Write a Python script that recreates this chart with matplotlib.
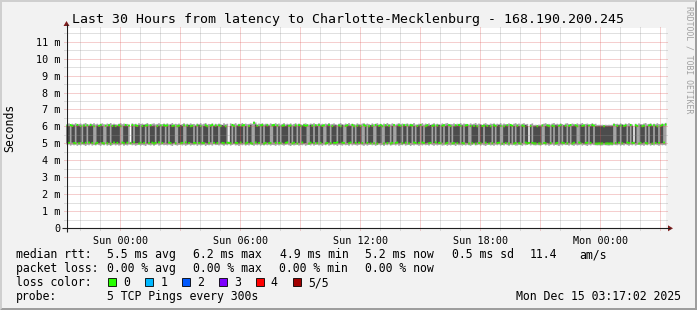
import numpy as np
import matplotlib
matplotlib.use('Agg')
import matplotlib.pyplot as plt
from matplotlib.patches import Polygon, Rectangle

plt.rcParams['font.family'] = ['DejaVu Sans Mono']
plt.rcParams['lines.scale_dashes'] = False

# ---------------- data: 5 pings every 300 s, 30 hours (360 steps) ----------------
# how many of the 5 pings landed in the ~6 ms cluster
n_slow = [
    3, 2, 4, 3, 2, 1, 3, 2, 3, 1, 3, 2, 4, 2, 3, 2, 4, 1, 2, 3, 3, 2, 1, 4, 2, 3, 1, 3, 2, 3,
    2, 3, 4, 1, 2, 3, 2, 4, 0, 3, 1, 3, 3, 2, 1, 3, 2, 4, 3, 1, 3, 2, 2, 1, 3, 2, 4, 2, 3, 4,
    3, 1, 2, 3, 3, 1, 4, 3, 2, 2, 4, 1, 3, 2, 3, 3, 1, 2, 4, 2, 3, 1, 2, 3, 3, 1, 3, 4, 2, 3,
    2, 4, 3, 2, 2, 3, 1, 0, 2, 4, 3, 1, 2, 3, 2, 3, 4, 2, 1, 3, 2, 1, 4, 2, 3, 2, 4, 3, 1, 2,
    3, 2, 1, 4, 3, 2, 4, 2, 1, 3, 3, 2, 2, 4, 3, 1, 2, 3, 1, 3, 4, 2, 3, 3, 4, 1, 2, 3, 1, 3,
    2, 4, 2, 3, 4, 1, 2, 3, 1, 3, 2, 2, 1, 3, 3, 2, 1, 4, 3, 2, 2, 4, 3, 1, 3, 2, 3, 1, 4, 3,
    1, 3, 2, 3, 1, 4, 2, 3, 3, 4, 1, 3, 2, 3, 1, 2, 4, 1, 2, 3, 3, 1, 3, 2, 4, 2, 3, 4, 2, 1,
    3, 2, 4, 2, 1, 3, 3, 2, 2, 4, 3, 1, 3, 2, 1, 3, 4, 2, 2, 4, 3, 1, 2, 3, 2, 3, 4, 2, 1, 3,
    3, 1, 4, 2, 3, 2, 3, 1, 2, 3, 4, 2, 3, 2, 3, 1, 3, 4, 2, 2, 4, 1, 3, 2, 3, 1, 3, 4, 2, 1,
    3, 2, 1, 3, 4, 2, 2, 0, 3, 1, 2, 2, 3, 2, 2, 4, 1, 2, 3, 3, 1, 3, 4, 2, 2, 4, 3, 1, 2, 3,
    1, 3, 4, 2, 2, 3, 4, 1, 2, 3, 3, 1, 2, 4, 2, 3, 4, 2, 2, 2, 2, 2, 3, 2, 2, 2, 2, 2, 4, 1,
    3, 2, 4, 2, 3, 3, 1, 2, 4, 2, 0, 3, 4, 1, 2, 3, 3, 1, 2, 4, 3, 2, 4, 2, 3, 1, 3, 3, 1, 4,
]
# typical rtt of the fast cluster (ms)
fast_ms = [
    5.04, 5.06, 5.02, 5.08, 5.05, 5.03, 5.07, 5.04, 5.09, 5.05, 5.02, 5.06, 5.04, 5.08, 5.03, 5.05, 5.07, 5.02, 5.06, 5.04, 5.09, 5.05, 5.03, 5.07, 5.04, 5.06, 5.02, 5.05, 5.08, 5.04,
    5.06, 5.03, 5.05, 5.08, 5.04, 5.02, 5.07, 5.05, 5.03, 5.06, 5.09, 5.04, 5.05, 5.02, 5.07, 5.04, 5.06, 5.08, 5.03, 5.05, 5.04, 5.07, 5.02, 5.06, 5.05, 5.09, 5.03, 5.05, 5.07, 5.04,
    5.03, 5.07, 5.05, 5.02, 5.06, 5.04, 5.08, 5.05, 5.03, 5.06, 5.04, 5.09, 5.02, 5.05, 5.07, 5.03, 5.06, 5.04, 5.08, 5.05, 5.02, 5.06, 5.04, 5.07, 5.03, 5.05, 5.09, 5.04, 5.06, 5.02,
    5.05, 5.08, 5.03, 5.06, 5.04, 5.02, 5.07, 5.05, 5.04, 5.09, 5.03, 5.06, 5.05, 5.02, 5.08, 5.04, 5.06, 5.03, 5.07, 5.05, 5.04, 5.02, 5.06, 5.08, 5.03, 5.05, 5.07, 5.04, 5.02, 5.06,
    5.07, 5.04, 5.05, 5.02, 5.08, 5.06, 5.03, 5.05, 5.04, 5.07, 5.02, 5.06, 5.09, 5.04, 5.05, 5.03, 5.07, 5.05, 5.02, 5.06, 5.04, 5.08, 5.03, 5.05, 5.06, 5.02, 5.07, 5.04, 5.05, 5.09,
    5.04, 5.02, 5.06, 5.05, 5.08, 5.03, 5.05, 5.07, 5.04, 5.02, 5.06, 5.05, 5.09, 5.03, 5.04, 5.07, 5.05, 5.02, 5.06, 5.04, 5.08, 5.05, 5.03, 5.06, 5.04, 5.07, 5.02, 5.05, 5.06, 5.03,
    5.06, 5.05, 5.03, 5.07, 5.04, 5.08, 5.02, 5.05, 5.06, 5.04, 5.03, 5.07, 5.05, 5.09, 5.02, 5.06, 5.04, 5.05, 5.08, 5.03, 5.06, 5.04, 5.02, 5.07, 5.05, 5.03, 5.06, 5.04, 5.08, 5.05,
    5.02, 5.06, 5.04, 5.08, 5.05, 5.03, 5.07, 5.04, 5.06, 5.02, 5.05, 5.09, 5.03, 5.06, 5.04, 5.07, 5.05, 5.02, 5.06, 5.04, 5.08, 5.03, 5.05, 5.07, 5.04, 5.02, 5.06, 5.05, 5.03, 5.07,
    5.05, 5.03, 5.07, 5.04, 5.06, 5.02, 5.08, 5.05, 5.04, 5.06, 5.03, 5.07, 5.05, 5.02, 5.09, 5.04, 5.06, 5.03, 5.05, 5.07, 5.04, 5.02, 5.06, 5.05, 5.08, 5.03, 5.04, 5.06, 5.02, 5.05,
    5.07, 5.04, 5.02, 5.06, 5.05, 5.08, 5.03, 5.05, 5.04, 5.06, 5.03, 5.03, 5.04, 5.03, 5.02, 5.07, 5.05, 5.04, 5.06, 5.02, 5.05, 5.08, 5.04, 5.03, 5.06, 5.05, 5.02, 5.07, 5.04, 5.06,
    5.04, 5.06, 5.05, 5.02, 5.07, 5.03, 5.05, 5.08, 5.04, 5.06, 5.02, 5.05, 5.07, 5.03, 5.06, 5.04, 5.05, 5.02, 5.02, 5.03, 5.02, 5.03, 5.04, 5.02, 5.03, 5.02, 5.03, 5.02, 5.06, 5.05,
    5.03, 5.07, 5.05, 5.04, 5.06, 5.02, 5.08, 5.05, 5.03, 5.06, 5.04, 5.05, 5.07, 5.02, 5.06, 5.04, 5.08, 5.05, 5.03, 5.06, 5.04, 5.02, 5.07, 5.05, 5.04, 5.06, 5.03, 5.05, 5.08, 5.06,
]
# typical rtt of the slow cluster (ms)
slow_ms = [
    6.08, 6.05, 6.11, 6.06, 6.09, 6.04, 6.12, 6.07, 6.05, 6.10, 6.08, 6.03, 6.09, 6.06, 6.11, 6.07, 6.04, 6.10, 6.08, 6.06, 6.12, 6.05, 6.09, 6.07, 6.03, 6.10, 6.08, 6.06, 6.11, 6.05,
    6.07, 6.10, 6.04, 6.09, 6.06, 6.12, 6.05, 6.08, 6.07, 6.11, 6.04, 6.09, 6.06, 6.10, 6.08, 6.05, 6.12, 6.07, 6.09, 6.04, 6.10, 6.06, 6.08, 6.11, 6.05, 6.07, 6.09, 6.04, 6.10, 6.06,
    6.09, 6.06, 6.12, 6.05, 6.08, 6.10, 6.04, 6.07, 6.11, 6.06, 6.09, 6.05, 6.08, 6.12, 6.04, 6.07, 6.10, 6.06, 6.09, 6.11, 6.05, 6.08, 6.06, 6.10, 6.04, 6.09, 6.07, 6.12, 6.05, 6.08,
    6.06, 6.09, 6.05, 6.11, 6.07, 6.04, 6.10, 6.08, 6.06, 6.12, 6.05, 6.09, 6.07, 6.10, 6.04, 6.08, 6.11, 6.06, 6.09, 6.05, 6.12, 6.10, 6.24, 6.14, 6.07, 6.05, 6.09, 6.11, 6.06, 6.08,
    6.10, 6.07, 6.05, 6.09, 6.12, 6.06, 6.08, 6.04, 6.11, 6.07, 6.09, 6.05, 6.10, 6.06, 6.08, 6.12, 6.04, 6.09, 6.07, 6.11, 6.05, 6.08, 6.10, 6.06, 6.09, 6.04, 6.12, 6.07, 6.05, 6.10,
    6.05, 6.11, 6.08, 6.06, 6.10, 6.04, 6.09, 6.12, 6.07, 6.05, 6.08, 6.10, 6.06, 6.09, 6.04, 6.11, 6.07, 6.05, 6.10, 6.08, 6.06, 6.12, 6.04, 6.09, 6.07, 6.10, 6.05, 6.08, 6.11, 6.06,
    6.08, 6.04, 6.10, 6.07, 6.05, 6.11, 6.09, 6.06, 6.12, 6.04, 6.08, 6.10, 6.05, 6.07, 6.09, 6.06, 6.11, 6.04, 6.08, 6.10, 6.07, 6.05, 6.12, 6.06, 6.09, 6.04, 6.10, 6.08, 6.06, 6.11,
    6.06, 6.09, 6.12, 6.05, 6.08, 6.04, 6.10, 6.07, 6.11, 6.06, 6.09, 6.05, 6.08, 6.12, 6.04, 6.07, 6.10, 6.06, 6.09, 6.11, 6.05, 6.08, 6.04, 6.10, 6.07, 6.12, 6.06, 6.09, 6.05, 6.08,
    6.11, 6.07, 6.05, 6.09, 6.06, 6.10, 6.04, 6.08, 6.12, 6.05, 6.07, 6.09, 6.06, 6.11, 6.04, 6.08, 6.10, 6.05, 6.07, 6.12, 6.06, 6.09, 6.04, 6.08, 6.10, 6.05, 6.11, 6.07, 6.06, 6.09,
    6.07, 6.05, 6.10, 6.08, 6.04, 6.12, 6.06, 6.09, 6.05, 6.11, 6.04, 6.05, 6.04, 6.05, 6.04, 6.08, 6.10, 6.06, 6.09, 6.05, 6.12, 6.07, 6.04, 6.10, 6.08, 6.06, 6.11, 6.05, 6.09, 6.07,
    6.09, 6.06, 6.11, 6.05, 6.08, 6.10, 6.04, 6.07, 6.12, 6.06, 6.09, 6.05, 6.10, 6.08, 6.04, 6.11, 6.07, 6.05, 6.04, 6.05, 6.04, 6.05, 6.04, 6.05, 6.04, 6.05, 6.04, 6.05, 6.12, 6.08,
    6.06, 6.10, 6.08, 6.12, 6.05, 6.09, 6.07, 6.04, 6.11, 6.06, 6.08, 6.10, 6.05, 6.09, 6.12, 6.04, 6.07, 6.10, 6.06, 6.08, 6.11, 6.05, 6.09, 6.07, 6.04, 6.10, 6.06, 6.12, 6.08, 6.14,
]
# lowest ping of the step (ms)
ping_min = [
    4.93, 4.96, 4.90, 4.95, 4.92, 4.97, 4.89, 4.94, 4.91, 4.96, 4.93, 4.88, 4.95, 4.92, 4.97, 4.90, 4.94, 4.91, 4.96, 4.93, 4.89, 4.95, 4.92, 4.97, 4.90, 4.94, 4.88, 4.93, 4.96, 4.91,
    4.95, 4.90, 4.93, 4.97, 4.89, 4.94, 4.91, 4.96, 4.98, 4.92, 4.95, 4.89, 4.93, 4.97, 4.90, 4.94, 4.92, 4.88, 4.96, 4.93, 4.91, 4.95, 4.89, 4.94, 4.97, 4.90, 4.93, 4.96, 4.92, 4.94,
    4.91, 4.95, 4.92, 4.88, 4.96, 4.93, 4.90, 4.94, 4.97, 4.91, 4.95, 4.89, 4.93, 4.96, 4.90, 4.94, 4.92, 4.97, 4.89, 4.95, 4.91, 4.93, 4.96, 4.88, 4.94, 4.92, 4.95, 4.90, 4.97, 4.93,
    4.94, 4.91, 4.96, 4.93, 4.89, 4.95, 4.92, 4.98, 4.90, 4.94, 4.97, 4.91, 4.93, 4.88, 4.95, 4.92, 4.96, 4.90, 4.94, 4.91, 4.97, 4.93, 4.89, 4.95, 4.92, 4.96, 4.90, 4.94, 4.91, 4.95,
    4.92, 4.96, 4.90, 4.94, 4.93, 4.89, 4.95, 4.91, 4.97, 4.93, 4.90, 4.94, 4.96, 4.92, 4.88, 4.95, 4.91, 4.93, 4.97, 4.90, 4.94, 4.92, 4.96, 4.89, 4.93, 4.95, 4.91, 4.97, 4.90, 4.94,
    4.96, 4.91, 4.94, 4.89, 4.95, 4.92, 4.97, 4.90, 4.93, 4.96, 4.91, 4.94, 4.88, 4.95, 4.93, 4.90, 4.96, 4.92, 4.94, 4.89, 4.97, 4.91, 4.95, 4.93, 4.90, 4.94, 4.96, 4.92, 4.89, 4.95,
    4.90, 4.94, 4.97, 4.92, 4.95, 4.89, 4.93, 4.96, 4.91, 4.94, 4.88, 4.95, 4.92, 4.97, 4.90, 4.93, 4.95, 4.91, 4.96, 4.89, 4.94, 4.92, 4.97, 4.90, 4.93, 4.95, 4.88, 4.94, 4.91, 4.96,
    4.93, 4.89, 4.95, 4.91, 4.96, 4.92, 4.94, 4.90, 4.97, 4.93, 4.89, 4.95, 4.91, 4.94, 4.96, 4.90, 4.92, 4.97, 4.89, 4.94, 4.91, 4.95, 4.93, 4.88, 4.96, 4.92, 4.94, 4.90, 4.95, 4.91,
    4.95, 4.92, 4.89, 4.94, 4.97, 4.91, 4.93, 4.96, 4.90, 4.95, 4.92, 4.88, 4.94, 4.97, 4.91, 4.93, 4.89, 4.95, 4.92, 4.96, 4.90, 4.94, 4.91, 4.97, 4.93, 4.89, 4.95, 4.92, 4.96, 4.90,
    4.91, 4.95, 4.93, 4.89, 4.96, 4.92, 4.94, 4.98, 4.91, 4.95, 4.92, 4.91, 4.93, 4.92, 4.90, 4.94, 4.97, 4.91, 4.95, 4.89, 4.93, 4.96, 4.90, 4.94, 4.92, 4.88, 4.95, 4.91, 4.97, 4.93,
    4.94, 4.90, 4.96, 4.92, 4.89, 4.95, 4.91, 4.93, 4.97, 4.90, 4.94, 4.92, 4.88, 4.95, 4.91, 4.96, 4.93, 4.92, 4.91, 4.92, 4.90, 4.91, 4.93, 4.92, 4.91, 4.90, 4.92, 4.91, 4.95, 4.93,
    4.92, 4.96, 4.90, 4.94, 4.91, 4.97, 4.93, 4.89, 4.95, 4.92, 4.98, 4.90, 4.94, 4.96, 4.91, 4.93, 4.89, 4.95, 4.92, 4.97, 4.90, 4.94, 4.91, 4.96, 4.93, 4.89, 4.95, 4.92, 4.94, 4.91,
]
# highest ping of the step (ms)
ping_max = [
    6.17, 6.21, 6.14, 6.19, 6.16, 6.22, 6.13, 6.18, 6.20, 6.15, 6.19, 6.23, 6.16, 6.14, 6.20, 6.17, 6.22, 6.15, 6.19, 6.13, 6.18, 6.21, 6.16, 6.14, 6.20, 6.17, 6.23, 6.15, 6.19, 6.16,
    6.14, 6.19, 6.22, 6.16, 6.20, 6.15, 6.18, 6.13, 5.12, 6.21, 6.16, 6.19, 6.14, 6.22, 6.17, 6.20, 6.15, 6.18, 6.23, 6.16, 6.13, 6.19, 6.21, 6.15, 6.18, 6.22, 6.14, 6.17, 6.20, 6.16,
    6.21, 6.15, 6.18, 6.23, 6.14, 6.19, 6.16, 6.20, 6.13, 6.17, 6.22, 6.15, 6.19, 6.14, 6.21, 6.16, 6.18, 6.13, 6.20, 6.17, 6.22, 6.15, 6.19, 6.23, 6.14, 6.18, 6.16, 6.21, 6.13, 6.19,
    6.15, 6.20, 6.17, 6.13, 6.22, 6.16, 6.19, 5.13, 6.21, 6.15, 6.18, 6.22, 6.14, 6.19, 6.17, 6.23, 6.15, 6.20, 6.16, 6.18, 6.21, 6.19, 6.32, 6.26, 6.14, 6.20, 6.17, 6.22, 6.15, 6.19,
    6.19, 6.14, 6.21, 6.17, 6.15, 6.22, 6.16, 6.20, 6.13, 6.18, 6.23, 6.15, 6.19, 6.16, 6.21, 6.14, 6.18, 6.22, 6.15, 6.20, 6.17, 6.13, 6.19, 6.21, 6.16, 6.14, 6.20, 6.18, 6.22, 6.15,
    6.16, 6.22, 6.15, 6.19, 6.14, 6.20, 6.17, 6.23, 6.15, 6.18, 6.21, 6.16, 6.13, 6.19, 6.22, 6.17, 6.14, 6.20, 6.16, 6.23, 6.15, 6.19, 6.17, 6.14, 6.21, 6.18, 6.15, 6.20, 6.22, 6.16,
    6.20, 6.17, 6.13, 6.21, 6.16, 6.19, 6.22, 6.15, 6.18, 6.14, 6.20, 6.16, 6.23, 6.17, 6.15, 6.21, 6.18, 6.14, 6.19, 6.22, 6.16, 6.20, 6.13, 6.18, 6.21, 6.15, 6.19, 6.17, 6.23, 6.14,
    6.15, 6.19, 6.16, 6.22, 6.14, 6.20, 6.17, 6.21, 6.13, 6.18, 6.22, 6.15, 6.19, 6.16, 6.14, 6.21, 6.17, 6.20, 6.23, 6.15, 6.18, 6.16, 6.21, 6.14, 6.19, 6.17, 6.22, 6.15, 6.20, 6.18,
    6.18, 6.14, 6.21, 6.16, 6.19, 6.23, 6.15, 6.20, 6.17, 6.13, 6.19, 6.22, 6.16, 6.14, 6.20, 6.18, 6.21, 6.15, 6.19, 6.16, 6.22, 6.14, 6.20, 6.17, 6.15, 6.21, 6.18, 6.13, 6.19, 6.22,
    6.16, 6.20, 6.14, 6.19, 6.22, 6.15, 6.18, 5.12, 6.17, 6.21, 6.12, 6.13, 6.12, 6.14, 6.12, 6.16, 6.19, 6.22, 6.15, 6.18, 6.14, 6.20, 6.23, 6.16, 6.19, 6.15, 6.21, 6.17, 6.13, 6.20,
    6.22, 6.17, 6.15, 6.20, 6.18, 6.14, 6.21, 6.16, 6.19, 6.23, 6.15, 6.18, 6.20, 6.14, 6.17, 6.22, 6.16, 6.19, 6.12, 6.13, 6.12, 6.13, 6.12, 6.13, 6.12, 6.13, 6.12, 6.13, 6.21, 6.17,
    6.19, 6.15, 6.21, 6.17, 6.14, 6.20, 6.16, 6.22, 6.18, 6.15, 5.13, 6.19, 6.14, 6.21, 6.17, 6.16, 6.20, 6.23, 6.15, 6.18, 6.21, 6.14, 6.19, 6.16, 6.22, 6.17, 6.15, 6.20, 6.18, 6.24,
]

pings_per_step = 5
step_hours = 5 / 60
start_hours = -(2 + 42 / 60 + 58 / 3600)   # Sat 21:17:02, hours from Sun 00:00
span_hours = 30
y_max = 11.8

x_tick_pos = [0, 6, 12, 18, 24]
x_tick_labels = ['Sun 00:00', 'Sun 06:00', 'Sun 12:00', 'Sun 18:00', 'Mon 00:00']
y_tick_pos = list(range(12))
y_tick_labels = ['0'] + ['%d m' % v for v in range(1, 12)]

title = 'Last 30 Hours from latency to Charlotte-Mecklenburg - 168.190.200.245'
stats_rtt = ['5.5 ms avg', '6.2 ms max', '4.9 ms min', '5.2 ms now', '0.5 ms sd', '11.4', 'am/s']
stats_loss = ['0.00 % avg', '0.00 % max', '0.00 % min', '0.00 % now']
loss_labels = ['0', '1', '2', '3', '4', '5/5']
loss_colors = ['#26ff00', '#00b8ff', '#0059ff', '#7e00ff', '#ff0000', '#a10000']
probe_text = '5 TCP Pings every 300s'
stamp = 'Mon Dec 15 03:17:02 2025'

# ---------------- sorted pings per step ----------------
n = np.array(n_slow)
fast = np.array(fast_ms)
slow = np.array(slow_ms)
p2 = np.where(n <= pings_per_step - 2, fast, slow)
p4 = np.where(n >= 2, slow, fast)
med = np.where(n >= 3, slow, fast)
p1 = np.minimum(np.array(ping_min), p2)
p5 = np.maximum(np.array(ping_max), p4)

# ---------------- figure layout (pixels) ----------------
W, H = 697, 310
L, R, T, B = 66, 666, 28, 228.3
fig = plt.figure(figsize=(W / 100, H / 100), dpi=100, facecolor='#f2f2f2')
ax = fig.add_axes([L / W, 1 - B / H, (R - L) / W, (B - T) / H])
ax.set_facecolor('white')
ax.set_xlim(start_hours, start_hours + span_hours)
ax.set_ylim(0, y_max)
for s in ax.spines.values():
    s.set_visible(False)

edges = start_hours + step_hours * np.arange(len(n) + 1)
ext = lambda a: np.append(a, a[-1])
ax.fill_between(edges, ext(p1), ext(p5), step='post', color='#a4a4a4', lw=0, zorder=1)
ax.fill_between(edges, ext(p2), ext(p4), step='post', color='#4c4c4c', lw=0, zorder=1.1)
sw = y_max / (B - T)
ax.fill_between(edges, ext(med - sw), ext(med + sw), step='post', color=loss_colors[0],
                lw=0, zorder=1.2)

# grid: 1px dots, drawn on top, with 2px stubs outside the plot like rrdtool
minor_col = (0.56, 0.56, 0.56, 0.55)
major_col = (0.87, 0.31, 0.31, 0.55)
dots = (0, (0.72, 0.72))
gx = 2 / (R - L)
gy = 2 / (B - T)
for v in np.arange(0.5, y_max, 0.5):
    major = float(v).is_integer()
    ax.plot([-gx, 1 + gx], [v, v], transform=ax.get_yaxis_transform(), clip_on=False,
            color=major_col if major else minor_col, lw=0.72,
            linestyle=dots, zorder=3)
for h in range(int(np.ceil(start_hours)), int(start_hours + span_hours) + 1):
    major = h % 3 == 0
    ax.plot([h, h], [-gy, 1 + gy], transform=ax.get_xaxis_transform(), clip_on=False,
            color=major_col if major else minor_col, lw=0.72,
            linestyle=dots, zorder=3)

ax.set_xticks(x_tick_pos)
ax.set_xticklabels(x_tick_labels)
ax.set_yticks(y_tick_pos)
ax.set_yticklabels(y_tick_labels)
ax.tick_params(axis='x', length=0, pad=5.3, labelsize=7.3)
ax.tick_params(axis='y', length=0, pad=4.0, labelsize=7.3)

# ---------------- overlay in pixel coordinates ----------------
ov = fig.add_axes([0, 0, 1, 1])
ov.set_xlim(0, W)
ov.set_ylim(H, 0)
ov.axis('off')
ov.patch.set_alpha(0)

ov.add_patch(Polygon([(0, 0), (W, 0), (W - 2, 2), (2, 2), (2, H - 2), (0, H)],
                     closed=True, color='#cfcfcf', lw=0))
ov.add_patch(Polygon([(W, 0), (W, H), (0, H), (2, H - 2), (W - 2, H - 2), (W - 2, 2)],
                     closed=True, color='#9e9e9e', lw=0))

axis_col = '#1f1f1f'
arrow_col = '#801f1f'
ov.plot([L - 4, R + 4], [B, B], color=axis_col, lw=0.8, solid_capstyle='butt')
ov.plot([L + 0.5, L + 0.5], [B + 4, T - 4], color=axis_col, lw=0.8, solid_capstyle='butt')
ov.add_patch(Polygon([(R + 2, B - 3), (R + 2, B + 3), (R + 7, B)], closed=True,
                     color=arrow_col, lw=0))
ov.add_patch(Polygon([(L - 2.5, T - 2), (L + 3.5, T - 2), (L + 0.5, T - 7)], closed=True,
                     color=arrow_col, lw=0))

ov.text(348, 19.5, title, ha='center', va='center', fontsize=9.5)
ov.text(10, 128, 'Seconds', rotation=90, ha='center', va='center', fontsize=8.3)
ov.text(688.5, 60, 'RRDTOOL / TOBI OETIKER', rotation=270, ha='center', va='center',
        fontsize=5.9, color='#a0a0a0')

fs = 8.3
rows = [258.3, 272.2, 286.1, 300]
ov.text(16, rows[0], 'median rtt:', fontsize=fs, va='baseline')
for txt, x in zip(stats_rtt, [107.3, 193.3, 280, 365, 451.7, 530, 579.3]):
    ov.text(x, rows[0], txt, fontsize=fs, va='baseline')
ov.text(16, rows[1], 'packet loss:', fontsize=fs, va='baseline')
for txt, x in zip(stats_loss, [107.3, 193.3, 279.3, 365]):
    ov.text(x, rows[1], txt, fontsize=fs, va='baseline')
ov.text(16, rows[2], 'loss color:', fontsize=fs, va='baseline')
for i, (lab, col) in enumerate(zip(loss_labels, loss_colors)):
    bx = 108.3 + i * 36.9
    ov.add_patch(Rectangle((bx, rows[2] - 8), 8, 8, facecolor=col, edgecolor='black', lw=0.6))
    ov.text(bx + 15, rows[2], lab, fontsize=fs, va='baseline')
ov.text(16, rows[3], 'probe:', fontsize=fs, va='baseline')
ov.text(107.3, rows[3], probe_text, fontsize=fs, va='baseline')
ov.text(680.5, rows[3], stamp, fontsize=fs, va='baseline', ha='right')

fig.savefig('out.png', dpi=100, facecolor=fig.get_facecolor())
